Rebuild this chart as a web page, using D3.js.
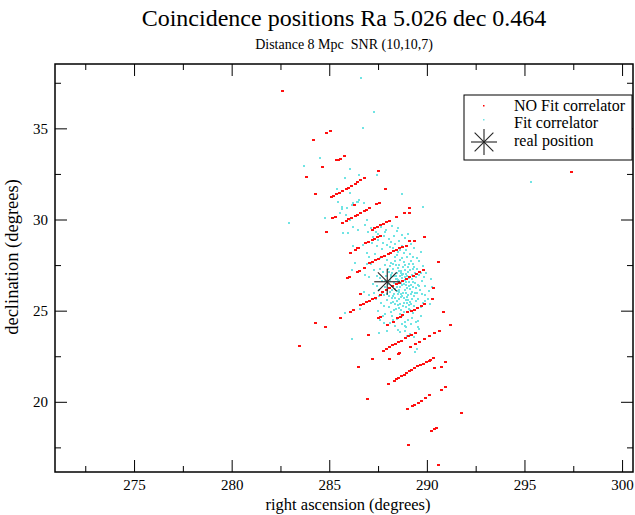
<!DOCTYPE html>
<html>
<head>
<meta charset="utf-8">
<script src="https://cdn.jsdelivr.net/npm/d3@7"></script>
<style>
  body { margin: 0; background: #fff; }
  text { font-family: "Liberation Serif", "Times New Roman", serif; fill: #000; }
</style>
</head>
<body>
<div id="chart"></div>
<script>
// coincidence positions, [ra, dec] in degrees
var noFitPoints = [
  [282.61,37.07],[284.18,34.38],[284.87,34.76],[285.05,34.85],[285.80,33.48],[285.38,33.28],[285.46,33.28],[285.56,33.33],
  [284.66,32.86],[283.84,32.34],[284.28,31.38],[286.83,32.27],[287.51,32.64],[287.90,31.65],[287.43,30.83],[287.56,30.92],
  [286.28,30.77],[289.13,30.61],[288.84,30.33],[289.10,30.33],[288.45,30.15],[285.17,30.09],[285.31,30.13],[284.87,29.29],
  [285.09,31.23],[285.24,31.31],[285.39,31.40],[285.55,31.48],[285.70,31.59],[285.86,31.67],[286.01,31.75],[286.16,31.84],
  [286.32,31.94],[286.47,32.05],[286.62,32.14],
  [285.70,29.83],[285.86,29.91],[286.01,30.02],[286.16,30.10],[286.32,30.19],[286.47,30.27],[286.62,30.35],[286.78,30.46],
  [286.93,30.54],[287.08,30.63],
  [287.19,29.45],[287.34,29.53],[287.49,29.61],[287.65,29.69],[287.80,29.77],[287.95,29.86],[288.11,29.94],
  [286.32,28.32],[286.47,28.43],[286.88,28.70],[287.03,28.79],[287.19,28.87],[287.34,28.95],[287.49,29.03],[287.65,29.09],
  [287.08,27.61],[287.24,27.69],[287.39,27.77],[287.54,27.85],[287.70,27.94],[287.85,28.02],[288.01,28.10],[288.16,28.18],
  [288.31,28.27],[288.47,28.35],[288.62,28.43],[288.77,28.51],[288.98,28.57],
  [289.13,28.81],[289.39,28.81],[289.90,29.05],[290.58,27.68],[286.11,28.19],[286.52,28.45],[286.79,27.32],[286.43,27.13],
  [286.06,26.85],[285.92,26.80],[286.57,27.17],
  [287.75,26.01],[287.95,26.12],[288.11,26.23],[288.26,26.34],[288.47,26.45],[288.62,26.54],[288.77,26.62],[288.98,26.73],
  [289.13,26.84],[289.29,26.92],[289.49,27.03],[289.64,27.14],[289.85,27.22],
  [286.62,25.30],[286.74,25.39],[286.91,25.48],[287.08,25.55],[287.24,25.63],[287.39,25.71],[287.60,25.85],
  [286.62,25.90],[286.10,24.92],[286.23,25.01],[285.60,24.59],[284.32,24.32],[284.82,24.08],[283.45,23.08],[287.03,23.64],
  [286.48,21.91],[290.36,26.22],[290.30,25.62],
  [288.77,24.75],[289.03,24.90],[289.23,24.97],[289.39,25.06],[289.54,25.15],[289.75,25.25],[289.90,25.36],
  [290.85,24.92],[287.51,24.57],[287.63,24.63],[288.48,24.57],[288.66,24.66],[287.99,24.24],[288.27,24.38],[291.19,24.24],
  [289.40,23.79],[290.38,23.79],[290.67,23.90],[290.15,23.63],[289.86,23.43],
  [287.77,22.79],[287.94,22.89],[288.11,23.01],[288.25,23.10],[288.37,23.16],[288.54,23.27],[288.71,23.34],[288.88,23.48],
  [289.05,23.60],[289.19,23.66],
  [288.54,22.65],[288.62,22.70],[289.61,23.28],[289.40,23.19],[287.22,22.37],[288.11,22.33],[289.17,23.00],
  [290.36,22.41],[290.97,22.19],[290.73,21.91],[290.39,21.83],
  [288.33,21.14],[288.46,21.23],[288.57,21.33],[288.71,21.40],[288.83,21.49],[288.97,21.58],[289.10,21.67],[289.22,21.77],
  [289.39,21.85],[289.53,21.95],[289.65,22.00],[289.82,22.09],[289.96,22.18],[290.11,22.26],[290.20,22.27],
  [288.04,21.00],[290.73,20.67],[290.97,20.81],[286.98,20.18],
  [289.03,19.62],[289.24,19.78],[289.35,19.82],[289.56,19.95],[289.75,20.06],[289.92,20.19],[290.16,20.35],
  [291.79,19.40],[290.51,18.58],[290.41,18.52],[290.24,18.41],[289.05,17.62],[290.61,16.56],[297.43,32.60]
];

var fitPoints = [
  [286.62,37.78],[287.30,35.91],[286.73,35.03],[284.52,33.35],[283.69,32.93],[286.06,32.75],[285.79,32.26],[286.54,32.42],
  [287.46,32.42],[286.06,31.47],[288.74,31.38],[285.45,30.96],[286.54,31.07],[286.40,30.96],[286.15,30.79],[286.78,30.88],
  [289.79,30.66],[285.65,30.66],[285.41,31.65],[282.96,29.79],[285.89,30.61],[285.55,30.33],[285.86,30.24],[284.78,30.11],
  [285.64,30.55],[286.20,30.88],[286.48,30.97],[286.95,29.97],[285.72,29.24],[285.97,29.24],[286.23,29.60],[286.48,29.42],
  [286.06,29.97],[286.83,29.70],[287.00,29.33],[286.23,28.54],[286.71,28.59],[286.92,28.14],[287.05,27.92],[286.32,27.62],
  [286.95,27.55],[286.15,27.22],[286.83,26.95],[286.78,26.03],[287.05,25.85],[286.57,25.07],[285.80,24.88],[286.15,23.42],
  [287.82,24.35],[288.72,24.26],[288.88,24.17],[289.57,24.41],[289.57,24.08],[287.57,23.80],[288.88,23.89],[289.48,22.92],
  [289.39,22.73],[295.33,32.05],
  [288.12,27.45],[288.35,27.71],[288.58,27.52],[288.81,27.66],[289.02,27.38],[289.27,27.55],[288.05,27.12],[288.29,27.28],
  [288.47,27.04],[288.69,27.19],[288.93,27.01],[289.16,27.22],[289.38,27.09],[288.18,26.83],[288.41,26.71],[288.63,26.88],
  [288.86,26.66],[289.08,26.79],[289.31,26.58],[288.02,26.47],[288.24,26.33],[288.52,26.52],[288.74,26.39],[288.97,26.27],
  [289.19,26.41],[289.42,26.22],[288.11,26.05],[288.33,25.92],[288.57,26.11],[288.79,25.97],[289.04,25.84],[289.25,26.03],
  [288.20,25.68],[288.46,25.55],[288.68,25.73],[288.92,25.61],[289.13,25.47],[288.38,27.92],[288.72,27.88],[288.99,27.95],
  [288.26,27.58],[288.53,27.33],[288.77,27.42],[289.09,27.58],[288.15,26.98],[288.44,26.92],[288.66,27.08],[288.89,26.85],
  [289.22,26.93],[288.31,26.54],[288.59,26.62],[288.82,26.48],[289.11,26.55],[288.08,26.22],[288.39,26.17],[288.63,26.29],
  [288.88,26.14],[289.15,26.19],[288.27,25.81],[288.51,25.89],[288.73,25.82],[288.98,25.74],[289.33,25.78],[288.14,25.43],
  [288.61,25.38],[288.84,25.44],[289.07,25.29],[288.45,26.76],[288.71,26.98],[288.95,26.42],[288.55,26.01],[288.36,25.37],
  [288.87,27.25],[289.45,26.84],[289.52,27.31],[289.48,25.98],
  [287.12,29.52],[287.38,29.31],[287.63,29.58],[287.92,29.44],[288.21,29.63],[288.47,29.38],[287.25,29.02],[287.51,28.86],
  [287.78,29.11],[288.04,28.93],[288.33,29.07],[288.58,28.82],[287.44,28.53],[287.69,28.37],[287.97,28.61],[288.26,28.44],
  [288.52,28.21],[287.85,28.02],[288.13,28.15],[287.58,27.88],[287.33,28.12],[288.71,28.54],[288.88,28.98],[289.05,29.22],
  [288.93,28.31],[289.21,28.67],[289.14,28.12],[287.18,28.71],
  [289.62,27.72],[289.81,27.44],[289.58,26.97],[289.74,26.61],[289.93,26.35],[289.66,26.12],[289.88,25.88],[289.57,25.63],
  [289.79,25.41],[290.05,25.66],[290.12,26.08],[289.98,27.08],[290.21,26.74],[289.69,28.24],
  [287.85,27.52],[287.62,27.28],[287.91,26.92],[287.71,26.63],[287.45,26.88],[287.88,26.31],[287.56,26.12],[287.79,25.86],
  [287.38,25.64],[287.67,25.42],[287.94,25.61],[287.22,26.44],[287.31,27.21],[287.05,26.82],
  [288.05,25.18],[288.32,25.02],[288.59,25.14],[288.83,24.94],[289.08,25.07],[289.31,24.88],[288.21,24.71],[288.48,24.55],
  [288.74,24.69],[289.02,24.47],[289.26,24.62],[287.86,24.83],[287.62,24.51],[288.11,24.32],[288.39,24.18],[288.95,24.12],
  [289.44,24.37],[289.58,24.02],[287.95,23.91],[288.63,23.82],[289.12,23.73],[289.51,25.12],
  [288.17,27.63],[288.42,27.49],[288.64,27.77],[288.90,27.51],[289.18,27.71],[289.35,27.42],[288.02,27.31],[288.23,27.06],
  [288.56,27.17],[288.78,27.03],[289.05,27.14],[289.29,27.28],[288.09,26.67],[288.34,26.89],[288.52,26.69],[288.75,26.78],
  [288.99,26.92],[289.24,26.73],[289.41,26.51],[288.19,26.38],[288.47,26.29],[288.69,26.49],[288.91,26.57],[289.06,26.36],
  [289.28,26.31],[289.53,26.43],[288.23,26.12],[288.48,26.06],[288.68,25.93],[288.93,25.99],[289.17,25.92],[289.38,25.96],
  [288.06,25.83],[288.36,25.71],[288.59,25.62],[288.81,25.69],[289.02,25.57],[289.22,25.66],[288.28,25.49],[288.53,25.31],
  [288.77,25.24],[288.99,25.41],[289.21,25.34],[289.42,25.51],[288.43,25.09],[288.70,25.01],[288.92,25.19],[289.15,25.02],
  [288.15,24.92],[288.61,24.84],[289.36,25.23],[287.98,27.78],[288.47,28.04],[288.83,28.14],[289.31,27.93],[288.62,28.31],
  [288.11,28.47],[288.39,28.66],[287.73,28.72],[287.49,29.21],[287.86,29.32],[288.16,28.78],[288.72,29.14],[288.54,29.51],
  [289.32,28.44],[289.47,27.89],[289.72,27.08],[289.84,26.83],[289.61,26.38],[289.73,25.92],[289.91,25.55],[289.68,25.21],
  [290.18,25.37],[290.26,26.28],[287.77,27.12],[287.58,26.78],[287.84,26.61],[287.47,26.33],[287.68,25.97],[287.95,25.92],
  [287.81,25.24],[287.53,25.78],[287.29,25.96],[287.48,24.97],[287.16,27.55],[287.74,24.72],[288.26,24.49],[288.87,24.38],
  [289.19,24.27],[289.71,24.73],[288.52,23.96],[288.99,23.61],[289.33,23.53]
];

var realPosition = [287.97, 26.585];

var xMajor = [275, 280, 285, 290, 295, 300];
var xMinor = [272.5, 277.5, 282.5, 287.5, 292.5, 297.5];
var yMajor = [20, 25, 30, 35];
var yMinor = [17.5, 22.5, 27.5, 32.5, 37.5];

var legendLabels = ["NO Fit correlator", "Fit correlator", "real position"];

var svgWidth = 635;
var svgHeight = 515;
var margin = {top: 64, right: 2, bottom: 43, left: 55};
var width = svgWidth - margin.left - margin.right;
var height = svgHeight - margin.top - margin.bottom;

var svg = d3.select("#chart")
    .append("svg")
    .attr("width", svgWidth)
    .attr("height", svgHeight);

svg.append("text")
    .attr("x", margin.left + width / 2)
    .attr("y", 26)
    .attr("text-anchor", "middle")
    .style("font-size", "24px")
    .text("Coincidence positions Ra 5.026 dec 0.464");

svg.append("text")
    .attr("x", margin.left + width / 2)
    .attr("y", 49)
    .attr("text-anchor", "middle")
    .style("font-size", "14px")
    .style("white-space", "pre")
    .text("Distance 8 Mpc  SNR (10,10,7)");

var chartGroup = svg.append("g")
    .attr("transform", `translate(${margin.left}, ${margin.top})`);

var x = d3.scaleLinear().domain([270.95, 300.56]).range([0, width]);
var y = d3.scaleLinear().domain([16.15, 38.53]).range([height, 0]);

// points
chartGroup.append("g").selectAll("rect")
    .data(fitPoints)
    .enter()
    .append("rect")
    .attr("x", d => x(d[0]) - 1)
    .attr("y", d => y(d[1]) - 1)
    .attr("width", 2)
    .attr("height", 2)
    .attr("fill", "#70e4e4")
    .attr("shape-rendering", "crispEdges");

chartGroup.append("g").selectAll("rect")
    .data(noFitPoints)
    .enter()
    .append("rect")
    .attr("x", d => x(d[0]) - 1.5)
    .attr("y", d => y(d[1]) - 1)
    .attr("width", 3)
    .attr("height", 2)
    .attr("fill", "#ff1010")
    .attr("shape-rendering", "crispEdges");

function star(g, cx, cy, r) {
    var pts = [[r, 0], [0, r], [r * 0.72, r * 0.72], [r * 0.72, -r * 0.72]];
    pts.forEach(function(p) {
        g.append("line")
            .attr("x1", cx - p[0]).attr("y1", cy - p[1])
            .attr("x2", cx + p[0]).attr("y2", cy + p[1])
            .attr("stroke", "#222")
            .attr("stroke-width", 1.1);
    });
}
star(chartGroup, x(realPosition[0]), y(realPosition[1]), 13);

// axes, ticks pointing inwards on all four sides
function addAxis(axisFn, values, size, labels, transform) {
    var ax = axisFn.tickValues(values).tickSize(-size).tickSizeOuter(0).tickPadding(labels ? 7 : 0);
    if (!labels) ax.tickFormat("");
    var g = chartGroup.append("g").attr("transform", transform).call(ax);
    g.select(".domain").remove();
    g.selectAll("line").attr("stroke", "#000").attr("stroke-width", 1);
    g.selectAll("text").style("font-size", "15px").attr("font-family", "Liberation Serif");
    return g;
}
addAxis(d3.axisBottom(x), xMajor, 12, true, `translate(0, ${height})`);
addAxis(d3.axisBottom(x), xMinor, 6, false, `translate(0, ${height})`);
addAxis(d3.axisTop(x), xMajor, 12, false, "translate(0, 0)");
addAxis(d3.axisTop(x), xMinor, 6, false, "translate(0, 0)");
addAxis(d3.axisLeft(y), yMajor, 12, true, "translate(0, 0)");
addAxis(d3.axisLeft(y), yMinor, 6, false, "translate(0, 0)");
addAxis(d3.axisRight(y), yMajor, 12, false, `translate(${width}, 0)`);
addAxis(d3.axisRight(y), yMinor, 6, false, `translate(${width}, 0)`);

chartGroup.append("rect")
    .attr("width", width)
    .attr("height", height)
    .attr("fill", "none")
    .attr("stroke", "#000")
    .attr("stroke-width", 1.5);

chartGroup.append("text")
    .attr("x", width / 2 + 4)
    .attr("y", height + 38)
    .attr("text-anchor", "middle")
    .style("font-size", "16.5px")
    .text("right ascension (degrees)");

chartGroup.append("text")
    .attr("transform", "rotate(-90)")
    .attr("x", -193)
    .attr("y", -37)
    .attr("text-anchor", "middle")
    .style("font-size", "18.5px")
    .text("declination (degrees)");

// legend
var legend = svg.append("g").attr("transform", "translate(464, 95)");
legend.append("rect")
    .attr("width", 168)
    .attr("height", 65)
    .attr("fill", "#fff")
    .attr("stroke", "#000")
    .attr("stroke-width", 1);
legend.append("rect").attr("x", 19).attr("y", 10).attr("width", 1.5).attr("height", 1.5).attr("fill", "#ff0000");
legend.append("rect").attr("x", 19).attr("y", 24).attr("width", 1.5).attr("height", 1.5).attr("fill", "#70e4e4");
star(legend, 20, 47, 13);
legend.selectAll("text.lab")
    .data(legendLabels)
    .enter()
    .append("text")
    .attr("class", "lab")
    .attr("x", 50)
    .attr("y", (d, i) => [16, 33, 51][i])
    .style("font-size", "16px")
    .text(d => d);
</script>
</body>
</html>
